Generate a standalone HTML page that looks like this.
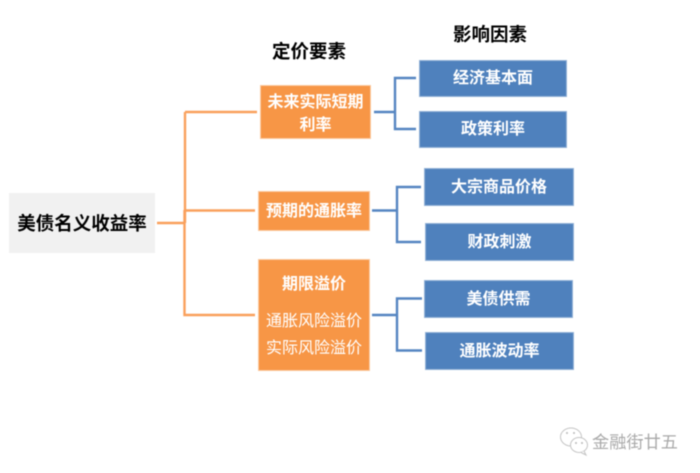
<!DOCTYPE html>
<html><head><meta charset="utf-8"><style>
html,body{margin:0;padding:0;background:#fff;width:700px;height:473px;overflow:hidden}
#p{position:relative;width:700px;height:473px;font-family:"Liberation Sans","Noto Sans CJK SC",sans-serif;filter:blur(.45px)}
.b{position:absolute;display:flex;align-items:center;justify-content:center;text-align:center;box-sizing:border-box;color:#fff;font-weight:700;font-size:16px;line-height:24px;padding-top:2px}
.o{background:#f79646;border:1px solid #fbc9a0}
.u{background:#4f81bd;border:1px solid #95b3d7;padding-top:1px}
.t{position:absolute;font-weight:700;font-size:18.500px;line-height:24px;color:#000;white-space:nowrap}
svg{position:absolute;left:0;top:0}
</style></head><body><div id="p">
<svg width="700" height="473" fill="none">
<g stroke="#f9a05c" stroke-width="2.4">
<path d="M157 223H184M185 223V112M185 112H257M184.500 210.500H255M184.500 210V315H255"/>
</g>
<g stroke="#5585c1" stroke-width="2.4">
<path d="M374 112H395M416 78H395V129H416"/>
<path d="M372 210.500H397M421 187H397V242H421"/>
<path d="M372 315H397M422 298.500H397V350.500H422"/>
</g>
<g stroke="#c4c4c4" stroke-width="1" fill="#fff">
<ellipse cx="571" cy="437" rx="10.500" ry="9"/>
<ellipse cx="579" cy="445" rx="8.500" ry="7.500"/>
<path d="M584 451l2 4-5-2.500" />
</g>
<g fill="#bbb"><circle cx="567" cy="433" r="1"/><circle cx="574" cy="433" r="1"/><circle cx="576" cy="443" r="1"/><circle cx="582" cy="443" r="1"/></g>
</svg>
<div class="t" style="left:272px;top:40px">定价要素</div>
<div class="t" style="left:453px;top:23px">影响因素</div>
<div class="b" style="left:9px;top:193px;width:146px;height:60px;background:#f1f1f1;color:#000;font-size:18.500px">美债名义收益率</div>
<div class="b o" style="left:260px;top:85px;width:111px;height:54px;padding-top:4px;line-height:23.500px">未来实际短期<br>利率</div>
<div class="b o" style="left:258px;top:191px;width:112px;height:40px">预期的通胀率</div>
<div class="b o" style="left:258px;top:259px;width:112px;height:112px"></div>
<div class="b" style="left:258px;top:272px;width:112px;height:24px;padding-top:0;top:273px">期限溢价</div>
<div class="b" style="left:258px;top:310px;width:112px;height:24px;padding-top:0;font-weight:400">通胀风险溢价</div>
<div class="b" style="left:258px;top:337px;width:112px;height:24px;padding-top:0;font-weight:400">实际风险溢价</div>
<div class="b u" style="left:419px;top:60px;width:148px;height:37px">经济基本面</div>
<div class="b u" style="left:419px;top:111px;width:148px;height:37px">政策利率</div>
<div class="b u" style="left:424px;top:168px;width:150px;height:38px">大宗商品价格</div>
<div class="b u" style="left:425px;top:223px;width:149px;height:38px">财政刺激</div>
<div class="b u" style="left:424px;top:280px;width:149px;height:38px">美债供需</div>
<div class="b u" style="left:425px;top:332px;width:149px;height:38px">通胀波动率</div>
<div style="position:absolute;left:592px;top:431px;font-size:17.200px;line-height:22px;color:#aaa;white-space:nowrap">金融街廿五</div>
</div></body></html>
